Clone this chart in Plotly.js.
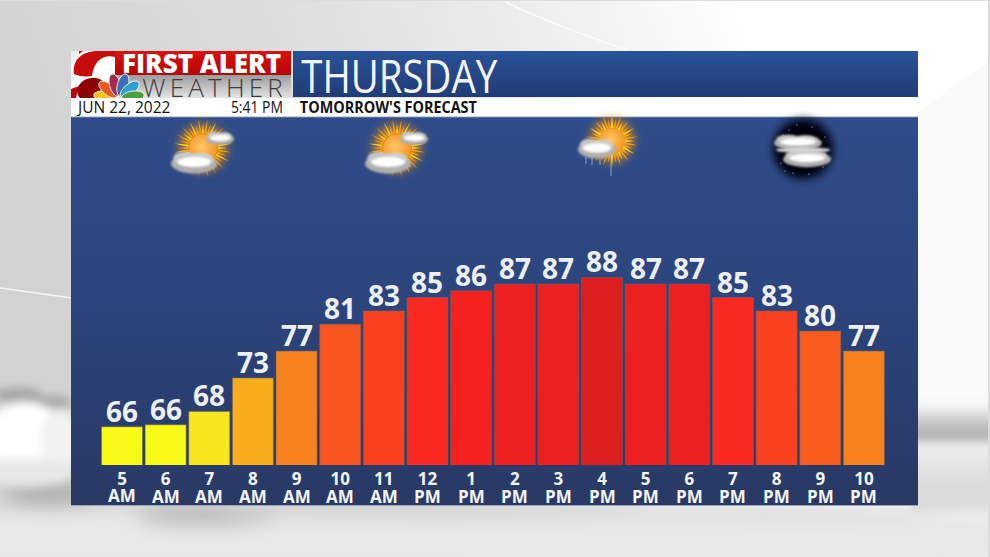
<!DOCTYPE html>
<html><head><meta charset="utf-8">
<script src="https://cdn.plot.ly/plotly-3.0.1.min.js"></script>
<style>
html,body{margin:0;padding:0;background:#fff;overflow:hidden}
#chart{width:990px;height:557px}
.annotation[data-index="1"] text{letter-spacing:4.2px}
</style></head><body><div id="chart"></div>
<script>
const hours = ['5','6','7','8','9','10','11','12','1','2','3','4','5','6','7','8','9','10'];
const meridiem = ['AM','AM','AM','AM','AM','AM','AM','PM','PM','PM','PM','PM','PM','PM','PM','PM','PM','PM'];
const temps = [65.7,66,68,73,77,81,83,85,86,87,87,88,87,87,85,83,80,77];
const barColors = ['#f8fb17','#f8fb17','#f7e51e','#f8ac1c','#f8821c','#fa551e','#f9401f','#fb2a20','#f4211f','#ec2020','#ec2020','#de1f20','#ec2020','#ec2020','#fb2a20','#f9401f','#fa5c1e','#f8821c'];
const categories = hours.map((h,i)=>h+' '+meridiem[i]);
const valueLabels = temps.map(v=>String(Math.round(v)));

const L=71,R=918,T=117,B=465;
const px=x=>(x-L)/(R-L), py=y=>(B-y)/(B-T);

function sunRays(cx,cy,r1,r2,n){let s='<g filter="url(#b0)">';for(let i=0;i<n;i++){const a=i/n*2*Math.PI,b=.1,l=i%2?r2:r2*.84;
 s+=`<polygon points="${cx+r1*Math.cos(a-b)},${cy+r1*Math.sin(a-b)} ${cx+l*Math.cos(a)},${cy+l*Math.sin(a)} ${cx+r1*Math.cos(a+b)},${cy+r1*Math.sin(a+b)}" fill="${i%3?'#f7a10f':'#ffd21f'}"/>`;}return s+'</g>';}
function cloud(cx,cy,rx,ry){return `<g filter="url(#b1)"><ellipse cx="${cx}" cy="${cy+ry*.15}" rx="${rx}" ry="${ry}" fill="#b0b0b0"/><ellipse cx="${cx-rx*.4}" cy="${cy-ry*.35}" rx="${rx*.5}" ry="${ry*.7}" fill="#c6c6c6"/><ellipse cx="${cx+rx*.3}" cy="${cy-ry*.25}" rx="${rx*.55}" ry="${ry*.7}" fill="#cecece"/><ellipse cx="${cx}" cy="${cy}" rx="${rx*.72}" ry="${ry*.5}" fill="#fff"/></g>`;}
function sunIcon(cx,cy){return `<circle cx="${cx}" cy="${cy}" r="25" fill="#ef8f10" opacity=".6" filter="url(#b2)"/>`+sunRays(cx,cy,13,29,40)+`<circle cx="${cx}" cy="${cy}" r="14.5" fill="url(#sun)" stroke="#d98a10"/>`+cloud(cx-9,cy+14,23,10)+cloud(cx+17,cy-10,14,6);}
function feather(rot,c,len){return `<ellipse cx="0" cy="${-len*.56}" rx="${len*.22}" ry="${len*.46}" fill="${c}" stroke="#fff" stroke-width=".8" transform="rotate(${rot})"/>`;}
let stars='';[[-20,-14],[-6,-24],[9,-22],[22,-12],[-22,14],[-10,24],[6,25],[20,18],[-14,-19],[-18,22]].forEach(p=>stars+=`<circle cx="${803+p[0]}" cy="${149+p[1]}" r=".6" fill="#cfd8ec"/>`);

const art=`<svg xmlns="http://www.w3.org/2000/svg" width="990" height="557" viewBox="0 0 990 557">
<defs>
<linearGradient id="bg" x1="0" y1="0.3" x2="1" y2="0.1"><stop offset="0" stop-color="#d2d2d2"/><stop offset=".3" stop-color="#dcdcdc"/><stop offset=".55" stop-color="#ececec"/><stop offset=".78" stop-color="#fff"/><stop offset="1" stop-color="#fff"/></linearGradient>
<linearGradient id="panel" x1="0" y1="0" x2="0" y2="1"><stop offset="0" stop-color="#2f4c8a"/><stop offset=".45" stop-color="#2c457e"/><stop offset="1" stop-color="#293964"/></linearGradient>
<linearGradient id="band" x1="0" y1="0" x2="0" y2="1"><stop offset="0" stop-color="#295298"/><stop offset="1" stop-color="#203c77"/></linearGradient>
<linearGradient id="red" x1="0" y1="0" x2="0" y2="1"><stop offset="0" stop-color="#d8130f"/><stop offset="1" stop-color="#b40507"/></linearGradient>
<linearGradient id="gray" x1="0" y1="0" x2="0" y2="1"><stop offset="0" stop-color="#9c9c9c"/><stop offset="1" stop-color="#e4e4e4"/></linearGradient>
<linearGradient id="rshade" x1="0" y1="0" x2="0" y2="1"><stop offset="0" stop-color="#fff" stop-opacity="0"/><stop offset=".4" stop-color="#d8d8d8"/><stop offset=".8" stop-color="#adadad"/><stop offset="1" stop-color="#c8c8c8"/></linearGradient>
<linearGradient id="rcloud" x1="0" y1="0" x2="0" y2="1"><stop offset="0" stop-color="#f0f0f0"/><stop offset=".5" stop-color="#dedede"/><stop offset="1" stop-color="#d8d8d8"/></linearGradient>
<radialGradient id="sun" cx=".45" cy=".45"><stop offset="0" stop-color="#ffc868"/><stop offset="1" stop-color="#f49a2c"/></radialGradient>
<filter id="b0" x="-20%" y="-20%" width="140%" height="140%"><feGaussianBlur stdDeviation=".6"/></filter>
<filter id="b1" x="-30%" y="-40%" width="160%" height="180%"><feGaussianBlur stdDeviation="1.3"/></filter>
<filter id="b2" x="-30%" y="-30%" width="160%" height="160%"><feGaussianBlur stdDeviation="4"/></filter>
<filter id="b3" x="-30%" y="-60%" width="160%" height="220%"><feGaussianBlur stdDeviation="9"/></filter>
<filter id="b4" x="-30%" y="-60%" width="160%" height="220%"><feGaussianBlur stdDeviation="4"/></filter>
<clipPath id="logo"><rect x="71" y="51" width="220" height="47"/></clipPath>
</defs>
<rect width="990" height="557" fill="url(#bg)"/>
<polygon points="880,140 990,60 990,400 880,400" fill="#fafafa"/>
<path d="M0,288 L72,298" stroke="#f5f5f5" stroke-width="1.3" fill="none"/>
<path d="M505,2 Q560,28 628,50" stroke="#fbfbfb" stroke-width="1.5" fill="none"/>
<g filter="url(#b4)">
<rect x="910" y="395" width="90" height="50" fill="url(#rshade)"/>
<rect x="910" y="442" width="90" height="72" fill="url(#rcloud)"/>
</g>
<g filter="url(#b3)">
<rect x="-30" y="510" width="1050" height="60" fill="#e8e8e8"/>
<ellipse cx="205" cy="517" rx="70" ry="9" fill="#b8b8b8"/>
<ellipse cx="50" cy="495" rx="45" ry="12" fill="#b0b0b0"/>
<ellipse cx="450" cy="512" rx="230" ry="6" fill="#d0d0d0"/>
<ellipse cx="800" cy="512" rx="150" ry="6" fill="#d8d8d8"/>
</g>
<g filter="url(#b4)">
<ellipse cx="18" cy="395" rx="24" ry="8" fill="#a8a8a8"/><ellipse cx="52" cy="402" rx="20" ry="7" fill="#aaaaaa"/>
<ellipse cx="25" cy="440" rx="42" ry="38" fill="#fff"/><ellipse cx="60" cy="440" rx="20" ry="30" fill="#f2f2f2"/><ellipse cx="25" cy="472" rx="50" ry="14" fill="#e8e8e8"/>
</g>
<rect x="988" y="0" width="2" height="557" fill="#dcdcdc"/>
<rect x="0" y="0" width="990" height="1" fill="#dcdcdc"/>
<rect x="71" y="117" width="847" height="388" fill="url(#panel)"/>
<rect x="71" y="505" width="847" height="1" fill="#9aa6c0"/>
<rect x="71" y="98" width="847" height="19" fill="#fff"/>
<rect x="71" y="116.3" width="847" height="1" fill="#b7bcc8"/>
<rect x="293" y="51" width="625" height="46" fill="url(#band)"/>
<rect x="71" y="51" width="220" height="24" fill="url(#red)"/>
<rect x="71" y="75" width="220" height="23" fill="url(#gray)"/>
<g clip-path="url(#logo)">
<rect x="71" y="51" width="8" height="47" fill="#efefef"/>
<ellipse cx="96" cy="65" rx="26" ry="18" fill="#fff" transform="rotate(-18 96 65)"/>
<ellipse cx="94" cy="88" rx="26" ry="16" fill="#fff" transform="rotate(-12 94 88)"/>
<path d="M74,74 C72,60 82,51 98,51 L121,51 L115,57 C104,54 94,60 92,76 C85,77 78,76 74,74 Z" fill="#c80c0c"/>
<ellipse cx="92" cy="90" rx="15" ry="12" fill="#8d0203" transform="rotate(-12 92 90)"/>
<path d="M71,98 L71,89 L79,86 L76,98 Z" fill="#b80708"/>
<rect x="115" y="51" width="8" height="24" fill="url(#red)"/>
<g transform="translate(119,98.5)">${feather(-82,'#f7c514',25)}${feather(-50,'#ea5a20',25)}${feather(-16,'#a52a52',25)}${feather(16,'#3a70b5',25)}${feather(50,'#2f9fd0',25)}${feather(82,'#4ca03f',25)}</g>
</g>
${sunIcon(203,148)}
${sunIcon(397,148)}
<path d="M586,157 v7 M592,157 v8 M600,157 v8 M611,156 v20" stroke="#7ea6c8" stroke-width="1"/>
<circle cx="612" cy="140" r="23" fill="#ef8f10" opacity=".6" filter="url(#b2)"/>
${sunRays(612,141,13,26,36)}
<circle cx="612" cy="141" r="13" fill="url(#sun)"/>
${cloud(597,148,19,9)}
<circle cx="803" cy="149" r="30" fill="#04060c" filter="url(#b2)"/>
${stars}
${cloud(798,142,24,7)}
${cloud(807,158,24,8)}
<ellipse cx="803" cy="150" rx="27" ry="3" fill="#d4d4d4" filter="url(#b1)"/>
</svg>`;

const headerTexts=[
 {text:'FIRST ALERT',x:121,y:63,size:26,color:'#fff',weight:800,anchor:'left'},
 {text:'WEATHER',x:156,y:87,size:26,color:'#3c3c3c',weight:300,anchor:'left'},
 {text:'THURSDAY',x:399,y:75,size:46,color:'#f4f4f4',weight:400,anchor:'center',fit:196},
 {text:'JUN 22, 2022',x:75,y:107.5,size:15.5,color:'#141414',weight:400,anchor:'left'},
 {text:'5:41 PM',x:257,y:107.5,size:16,color:'#141414',weight:400,anchor:'center',fit:52},
 {text:"TOMORROW'S FORECAST",x:388.5,y:107.5,size:16,color:'#141414',weight:700,anchor:'center',fit:177}
];
const annotations=headerTexts.map(t=>({xref:'paper',yref:'paper',x:px(t.x),y:py(t.y),xanchor:t.anchor,yanchor:'middle',showarrow:false,text:t.text,borderpad:0,
  font:{family:'Open Sans',size:t.size,color:t.color,weight:t.weight}}));
meridiem.forEach((m,i)=>annotations.push({xref:'x',yref:'paper',x:categories[i],y:py(i===0?495:496.5),xanchor:'center',yanchor:'middle',showarrow:false,text:m,borderpad:0,
  font:{family:'Open Sans',size:17,color:'#f4f5f8',weight:700}}));
temps.forEach((v,i)=>annotations.push({xref:'x',yref:'y',x:categories[i],y:v,xanchor:'center',yanchor:'bottom',yshift:-4,showarrow:false,text:valueLabels[i],borderpad:0,
  font:{family:'Open Sans',size:28,color:'#eef0f4',weight:700}}));

Plotly.newPlot('chart',[{
  type:'bar',x:categories,y:temps,cliponaxis:false,textposition:'none',
  marker:{color:barColors,line:{color:'rgba(110,100,100,0.55)',width:1}},hoverinfo:'skip'
}],{
  width:990,height:557,showlegend:false,
  margin:{l:L,r:990-R,t:T,b:557-B,pad:0},
  paper_bgcolor:'rgba(0,0,0,0)',plot_bgcolor:'rgba(0,0,0,0)',bargap:0.06,
  xaxis:{type:'category',range:[(L-122)/43.64,(R-122)/43.64],tickmode:'array',tickvals:categories,ticktext:hours,
    showgrid:false,zeroline:false,showline:false,ticks:'',ticklen:0,tickangle:0,ticklabelstandoff:2,
    tickfont:{family:'Open Sans',size:17,color:'#f4f5f8',weight:700}},
  yaxis:{range:[60,60+(B-T)/6.7],visible:false,showgrid:false,zeroline:false},
  images:[{source:'data:image/svg+xml;charset=utf-8,'+encodeURIComponent(art),xref:'paper',yref:'paper',
    x:px(0),y:py(0),sizex:990/(R-L),sizey:557/(B-T),xanchor:'left',yanchor:'top',sizing:'stretch',layer:'below'}],
  annotations:annotations
},{displayModeBar:false,staticPlot:true}).then(()=>{
  headerTexts.forEach((t,i)=>{ if(!t.fit) return;
    const el=document.querySelector(`.annotation[data-index="${i}"] text`);
    if(el){el.setAttribute('textLength',t.fit);el.setAttribute('lengthAdjust','spacingAndGlyphs');}
  });
});
</script></body></html>
